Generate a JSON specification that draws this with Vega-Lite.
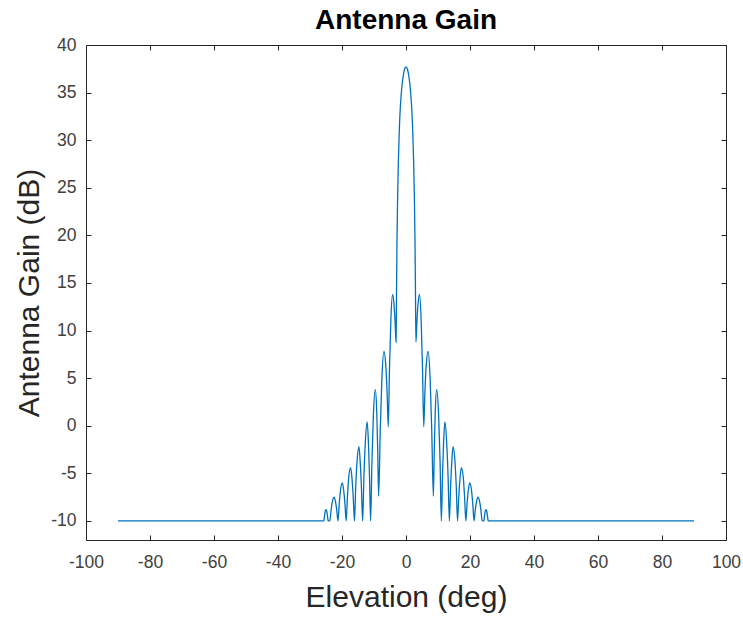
{
  "$schema": "https://vega.github.io/schema/vega-lite/v6.json",
  "width": 640,
  "height": 495,
  "autosize": "none",
  "padding": {"left": 86, "top": 45, "right": 17, "bottom": 77},
  "background": "white",
  "title": {"text": "Antenna Gain", "fontSize": 28, "fontWeight": "bold", "font": "Liberation Sans", "color": "#000000", "offset": 1, "anchor": "middle"},
  "config": {
    "view": {"stroke": "#262626", "strokeWidth": 1},
    "axis": {"font": "Liberation Sans", "labelFont": "Liberation Sans", "titleFont": "Liberation Sans", "labelFontSize": 17.5, "labelColor": "#404040", "titleColor": "#262626", "titleFontSize": 30, "titleFontWeight": "normal", "tickColor": "#262626", "domainColor": "#262626", "grid": false, "tickSize": -5, "tickWidth": 1, "domain": false, "labelFlush": false, "labelOverlap": false, "labelExpr": "'' + datum.value"}
  },
  "data": {"values": [
    {"e": -90, "g": -10}, {"e": -25.7, "g": -10}, {"e": -25.45, "g": -9.46}, {"e": -25.25, "g": -9.0}, {"e": -25.0, "g": -8.8}, {"e": -24.75, "g": -9.0}, {"e": -24.55, "g": -9.46}, {"e": -24.3, "g": -10},
    {"e": -23.8, "g": -10}, {"e": -23.42, "g": -8.88}, {"e": -23.03, "g": -8.0}, {"e": -22.45, "g": -7.5}, {"e": -22.02, "g": -8.0}, {"e": -21.63, "g": -8.88},
    {"e": -21.25, "g": -10}, {"e": -20.87, "g": -8.2}, {"e": -20.48, "g": -6.8}, {"e": -19.9, "g": -6.0}, {"e": -19.47, "g": -6.8}, {"e": -19.08, "g": -8.2},
    {"e": -18.7, "g": -10}, {"e": -18.31, "g": -7.48}, {"e": -17.92, "g": -5.52}, {"e": -17.3, "g": -4.4}, {"e": -16.88, "g": -5.52}, {"e": -16.49, "g": -7.48},
    {"e": -16.1, "g": -10}, {"e": -15.72, "g": -6.49}, {"e": -15.3, "g": -3.76}, {"e": -14.7, "g": -2.2}, {"e": -14.32, "g": -3.76}, {"e": -13.93, "g": -6.49},
    {"e": -13.55, "g": -10}, {"e": -13.15, "g": -5.32}, {"e": -12.7, "g": -1.68}, {"e": -12.15, "g": 0.4}, {"e": -11.75, "g": -1.68}, {"e": -11.4, "g": -5.32},
    {"e": -11.05, "g": -10}, {"e": -10.65, "g": -3.79}, {"e": -10.2, "g": 1.04}, {"e": -9.6, "g": 3.8}, {"e": -9.15, "g": 1.56}, {"e": -8.85, "g": -2.36},
    {"e": -8.55, "g": -7.4}, {"e": -8.05, "g": -0.56}, {"e": -7.56, "g": 4.76}, {"e": -6.9, "g": 7.8}, {"e": -6.3, "g": 6.22}, {"e": -5.9, "g": 3.46},
    {"e": -5.55, "g": -0.1}, {"e": -5.15, "g": 6.15}, {"e": -4.74, "g": 11.0}, {"e": -4.2, "g": 13.8}, {"e": -3.76, "g": 12.8}, {"e": -3.43, "g": 11.05},
    {"e": -3.1, "g": 8.8}, {"e": -2.95, "g": 14.5}, {"e": -2.8, "g": 19.8}, {"e": -2.6, "g": 24.3}, {"e": -2.4, "g": 27.6}, {"e": -2.1, "g": 31.0}, {"e": -1.8, "g": 33.3}, {"e": -1.5, "g": 34.8}, {"e": -1.2, "g": 35.9}, {"e": -0.8, "g": 36.9}, {"e": -0.4, "g": 37.5},
    {"e": 0, "g": 37.7},
    {"e": 0.4, "g": 37.5}, {"e": 0.8, "g": 36.9}, {"e": 1.2, "g": 35.9}, {"e": 1.5, "g": 34.8}, {"e": 1.8, "g": 33.3}, {"e": 2.1, "g": 31.0}, {"e": 2.4, "g": 27.6}, {"e": 2.6, "g": 24.3}, {"e": 2.8, "g": 19.8}, {"e": 2.95, "g": 14.5}, {"e": 3.1, "g": 8.8},
    {"e": 3.43, "g": 11.05}, {"e": 3.76, "g": 12.8}, {"e": 4.2, "g": 13.8}, {"e": 4.74, "g": 11.0}, {"e": 5.15, "g": 6.15}, {"e": 5.55, "g": -0.1},
    {"e": 5.9, "g": 3.46}, {"e": 6.3, "g": 6.22}, {"e": 6.9, "g": 7.8}, {"e": 7.56, "g": 4.76}, {"e": 8.05, "g": -0.56}, {"e": 8.55, "g": -7.4},
    {"e": 8.85, "g": -2.36}, {"e": 9.15, "g": 1.56}, {"e": 9.6, "g": 3.8}, {"e": 10.2, "g": 1.04}, {"e": 10.65, "g": -3.79}, {"e": 11.05, "g": -10},
    {"e": 11.4, "g": -5.32}, {"e": 11.75, "g": -1.68}, {"e": 12.15, "g": 0.4}, {"e": 12.7, "g": -1.68}, {"e": 13.15, "g": -5.32}, {"e": 13.55, "g": -10},
    {"e": 13.93, "g": -6.49}, {"e": 14.32, "g": -3.76}, {"e": 14.7, "g": -2.2}, {"e": 15.3, "g": -3.76}, {"e": 15.72, "g": -6.49}, {"e": 16.1, "g": -10},
    {"e": 16.49, "g": -7.48}, {"e": 16.88, "g": -5.52}, {"e": 17.3, "g": -4.4}, {"e": 17.92, "g": -5.52}, {"e": 18.31, "g": -7.48}, {"e": 18.7, "g": -10},
    {"e": 19.08, "g": -8.2}, {"e": 19.47, "g": -6.8}, {"e": 19.9, "g": -6.0}, {"e": 20.48, "g": -6.8}, {"e": 20.87, "g": -8.2}, {"e": 21.25, "g": -10},
    {"e": 21.63, "g": -8.88}, {"e": 22.02, "g": -8.0}, {"e": 22.45, "g": -7.5}, {"e": 23.03, "g": -8.0}, {"e": 23.42, "g": -8.88}, {"e": 23.8, "g": -10},
    {"e": 24.3, "g": -10}, {"e": 24.55, "g": -9.46}, {"e": 24.75, "g": -9.0}, {"e": 25.0, "g": -8.8}, {"e": 25.25, "g": -9.0}, {"e": 25.45, "g": -9.46}, {"e": 25.7, "g": -10},
    {"e": 90, "g": -10}
  ]},
  "layer": [
    {
      "mark": {"type": "line", "color": "#0072BD", "strokeWidth": 1.3, "interpolate": "monotone"},
      "encoding": {
        "x": {"field": "e", "type": "quantitative", "scale": {"domain": [-100, 100], "nice": false, "zero": false},
              "axis": {"orient": "bottom", "values": [-100, -80, -60, -40, -20, 0, 20, 40, 60, 80, 100], "labelPadding": 18, "title": "Elevation (deg)", "titlePadding": 12}},
        "y": {"field": "g", "type": "quantitative", "scale": {"domain": [-12, 40], "nice": false, "zero": false},
              "axis": {"orient": "left", "values": [-10, -5, 0, 5, 10, 15, 20, 25, 30, 35, 40], "labelPadding": 15, "title": "Antenna Gain (dB)", "titlePadding": 6}}
      }
    },
    {
      "mark": {"type": "line", "opacity": 0},
      "encoding": {
        "x": {"field": "e", "type": "quantitative", "axis": {"orient": "top", "values": [-100, -80, -60, -40, -20, 0, 20, 40, 60, 80, 100], "labels": false, "title": null}},
        "y": {"field": "g", "type": "quantitative", "axis": {"orient": "right", "values": [-10, -5, 0, 5, 10, 15, 20, 25, 30, 35, 40], "labels": false, "title": null}}
      }
    }
  ],
  "resolve": {"axis": {"x": "independent", "y": "independent"}}
}
